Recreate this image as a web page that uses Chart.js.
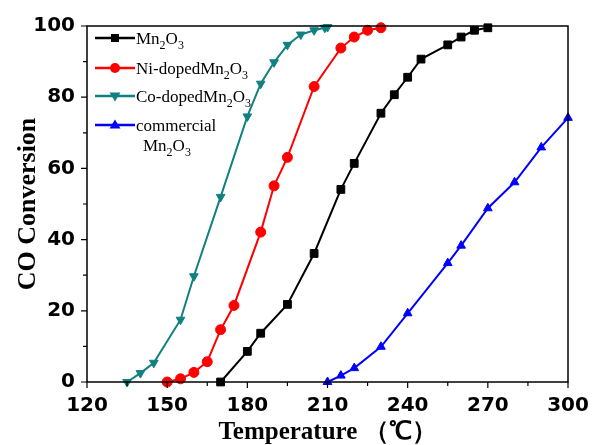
<!DOCTYPE html>
<html>
<head>
<meta charset="utf-8">
<script src="https://cdn.jsdelivr.net/npm/chart.js@4.4.0/dist/chart.umd.min.js"></script>
<style>
  html, body { margin: 0; padding: 0; background: #fff; }
  #wrap { width: 592px; height: 445px; }
</style>
</head>
<body>
<div id="wrap"><canvas id="coChart" width="592" height="445"></canvas></div>
<script>
// CO conversion vs temperature

const seriesNames = ["Mn2O3", "Ni-dopedMn2O3", "Co-dopedMn2O3", "commercial Mn2O3"];
// "_x" = subscript x, "\n" = new line
const legendText = ["Mn_2O_3", "Ni-dopedMn_2O_3", "Co-dopedMn_2O_3", "commercial\nMn_2O_3"];

const mnTemp = [170, 180, 185, 195, 205, 215, 220, 230, 235, 240, 245, 255, 260, 265, 270];
const mnConv = [0, 8.6, 13.7, 21.8, 36.1, 54.1, 61.4, 75.5, 80.7, 85.6, 90.7, 94.7, 96.9, 98.8, 99.5];

const niTemp = [150, 155, 160, 165, 170, 175, 185, 190, 195, 205, 215, 220, 225, 230];
const niConv = [0, 0.9, 2.7, 5.7, 14.7, 21.5, 42.1, 55.1, 63.1, 83.0, 93.8, 96.9, 98.8, 99.5];

const coTemp = [135, 140, 145, 155, 160, 170, 180, 185, 190, 195, 200, 205, 209, 210];
const coConv = [0, 2.5, 5.4, 17.5, 29.7, 52.0, 74.6, 83.8, 89.8, 94.7, 97.6, 98.8, 99.5, 99.7];

const comTemp = [210, 215, 220, 230, 240, 255, 260, 270, 280, 290, 300];
const comConv = [0, 1.8, 3.9, 9.9, 19.3, 33.4, 38.3, 48.8, 56.1, 65.9, 74.2];

const xTickLabels = [120, 150, 180, 210, 240, 270, 300];
const yTickLabels = [0, 20, 40, 60, 80, 100];

const colors = ["#000000", "#ff0000", "#118080", "#0000ff"];
const markers = ["rect", "circle", "triangleDown", "triangle"];

function pts(xs, ys) {
  return xs.map((x, i) => ({ x: x, y: ys[i] }));
}

function lineSet(i, xs, ys) {
  const style = markers[i] === "triangleDown" ? "triangle" : markers[i];
  return {
    label: seriesNames[i],
    data: pts(xs, ys),
    borderColor: colors[i],
    backgroundColor: colors[i],
    borderWidth: 2,
    pointStyle: style,
    pointRotation: markers[i] === "triangleDown" ? 180 : 0,
    pointRadius: markers[i] === "rect" ? 5.5 : 5,
    pointBorderWidth: 1,
    tension: 0,
    clip: false
  };
}

// text with simple subscripts
function drawRich(ctx, str, x, y, size) {
  let cx = x;
  for (let i = 0; i < str.length; i++) {
    const ch = str[i];
    if (ch === "_") {
      const sub = str[i + 1];
      ctx.font = Math.round(size * 0.72) + "px 'Liberation Serif', 'Times New Roman', serif";
      ctx.fillText(sub, cx, y + size * 0.3);
      cx += ctx.measureText(sub).width;
      i++;
    } else {
      ctx.font = size + "px 'Liberation Serif', 'Times New Roman', serif";
      ctx.fillText(ch, cx, y);
      cx += ctx.measureText(ch).width;
    }
  }
}

function drawMarker(ctx, kind, x, y) {
  ctx.beginPath();
  if (kind === "rect") {
    ctx.rect(x - 4, y - 4, 8, 8);
  } else if (kind === "circle") {
    ctx.arc(x, y, 5, 0, Math.PI * 2);
  } else if (kind === "triangleDown") {
    ctx.moveTo(x - 5.5, y - 3.5);
    ctx.lineTo(x + 5.5, y - 3.5);
    ctx.lineTo(x, y + 5.5);
    ctx.closePath();
  } else {
    ctx.moveTo(x - 5.5, y + 3.5);
    ctx.lineTo(x + 5.5, y + 3.5);
    ctx.lineTo(x, y - 5.5);
    ctx.closePath();
  }
  ctx.fill();
}

const frameAndTicks = {
  id: "frameAndTicks",
  afterDatasetsDraw(chart) {
    const ctx = chart.ctx;
    const a = chart.chartArea;
    const xs = chart.scales.x, ys = chart.scales.y;
    ctx.save();
    ctx.strokeStyle = "#000";
    ctx.lineWidth = 1.5;
    ctx.strokeRect(a.left, a.top, a.right - a.left, a.bottom - a.top);

    ctx.lineWidth = 1.2;
    ctx.beginPath();
    xs.ticks.forEach(t => {
      const px = xs.getPixelForValue(t.value);
      const len = t.value % 30 === 0 ? 6 : 4;
      ctx.moveTo(px, a.bottom);
      ctx.lineTo(px, a.bottom + len);
    });
    ys.ticks.forEach(t => {
      const py = ys.getPixelForValue(t.value);
      const len = t.value % 20 === 0 ? 6 : 4;
      ctx.moveTo(a.left, py);
      ctx.lineTo(a.left - len, py);
    });
    ctx.stroke();
    ctx.restore();
  }
};

const legendBox = {
  id: "legendBox",
  afterDraw(chart) {
    const ctx = chart.ctx;
    const rowY = [38, 68, 96, 125];
    ctx.save();
    ctx.textBaseline = "alphabetic";
    ctx.fillStyle = "#000";
    legendText.forEach((txt, i) => {
      const y = rowY[i];
      ctx.strokeStyle = colors[i];
      ctx.fillStyle = colors[i];
      ctx.lineWidth = 2.5;
      ctx.beginPath();
      ctx.moveTo(95, y);
      ctx.lineTo(135, y);
      ctx.stroke();
      drawMarker(ctx, markers[i], 115, y);
      ctx.fillStyle = "#000";
      const lines = txt.split("\n");
      drawRich(ctx, lines[0], 136, y + 6, 17);
      if (lines[1]) drawRich(ctx, lines[1], 143, y + 26, 17);
    });
    ctx.restore();
  }
};

const datasets = [
  lineSet(0, mnTemp, mnConv),
  lineSet(1, niTemp, niConv),
  lineSet(2, coTemp, coConv),
  lineSet(3, comTemp, comConv)
];

new Chart(document.getElementById("coChart").getContext("2d"), {
  type: "line",
  data: { datasets },
  options: {
    responsive: false,
    animation: false,
    layout: { padding: { top: 26, right: 24, left: 0, bottom: 0 } },
    plugins: {
      legend: { display: false },
      tooltip: { enabled: false }
    },
    scales: {
      x: {
        type: "linear",
        min: 120,
        max: 300,
        border: { display: false },
        grid: { display: false, drawTicks: false },
        ticks: {
          stepSize: 15,
          autoSkip: false,
          maxRotation: 0,
          padding: 12,
          color: "#000",
          font: { family: "'DejaVu Sans', sans-serif", size: 20, weight: "bold" },
          callback: v => xTickLabels.includes(v) ? String(v) : ""
        },
        title: {
          display: true,
          text: "Temperature （℃）",
          color: "#000",
          font: { family: "'Liberation Serif', 'Times New Roman', serif", size: 25, weight: "bold", lineHeight: 1 },
          padding: { top: 0, bottom: 0 }
        },
        afterFit: s => { s.height = 63; s.paddingRight = 0; s.paddingLeft = 0; }
      },
      y: {
        min: 0,
        max: 100,
        border: { display: false },
        grid: { display: false, drawTicks: false },
        ticks: {
          stepSize: 10,
          autoSkip: false,
          padding: 12,
          color: "#000",
          font: { family: "'DejaVu Sans', sans-serif", size: 20, weight: "bold" },
          callback: v => yTickLabels.includes(v) ? String(v) : ""
        },
        title: {
          display: true,
          text: "CO Conversion",
          color: "#000",
          font: { family: "'Liberation Serif', 'Times New Roman', serif", size: 26, weight: "bold", lineHeight: 1 },
          padding: { top: 15, bottom: 0 }
        },
        afterFit: s => { s.width = 87; s.paddingTop = 0; s.paddingBottom = 0; }
      }
    }
  },
  plugins: [frameAndTicks, legendBox]
});
</script>
</body>
</html>
